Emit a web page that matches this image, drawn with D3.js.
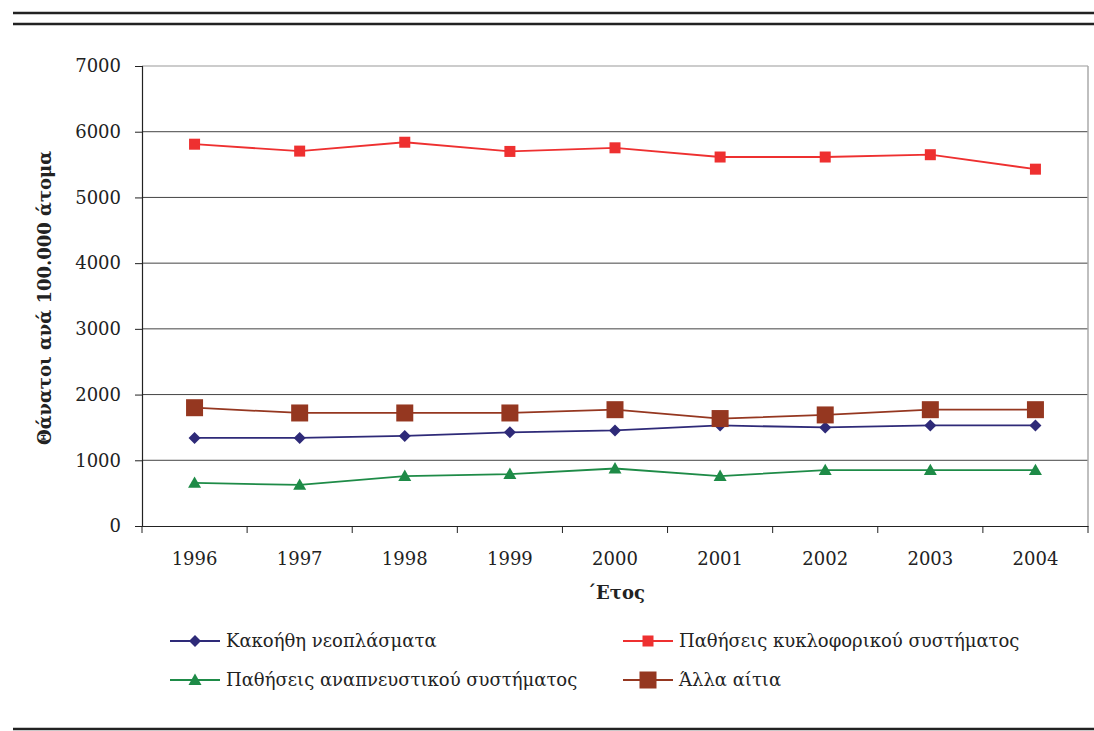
<!DOCTYPE html>
<html><head><meta charset="utf-8">
<script src="https://cdn.jsdelivr.net/npm/d3@7"></script>
<style>body{margin:0;background:#fff}svg{display:block}text{font-family:"DejaVu Serif",serif;fill:#222}</style>
</head><body><svg id="c" width="1094" height="731"></svg>
<script>
const years = ["1996","1997","1998","1999","2000","2001","2002","2003","2004"];
const yTicks = [0,1000,2000,3000,4000,5000,6000,7000];
const neoplasms = [1340,1340,1370,1425,1455,1530,1500,1530,1530];
const circulatory = [5810,5705,5840,5700,5755,5615,5615,5650,5430];
const respiratory = [655,625,760,790,875,760,850,850,850];
const other = [1800,1720,1720,1720,1770,1635,1690,1770,1770];
const seriesNames = ["Κακοήθη νεοπλάσματα","Παθήσεις κυκλοφορικού συστήματος","Παθήσεις αναπνευστικού συστήματος","Άλλα αίτια"];

const series = [
  {name:seriesNames[0], values:neoplasms, color:"#2E2A78", shape:"diamond", size:12, lw:1.8},
  {name:seriesNames[1], values:circulatory, color:"#EE3030", shape:"square", size:11, lw:1.8},
  {name:seriesNames[2], values:respiratory, color:"#1E8B47", shape:"triangle", size:13, lw:1.8},
  {name:seriesNames[3], values:other, color:"#953720", shape:"square", size:17, lw:1.8}
];

const svg = d3.select("#c");
const L=142, R=1088, T=66, B=526;
const x = d3.scaleBand().domain(years).range([L,R]);
const y = d3.scaleLinear().domain([0,7000]).range([B,T]);

svg.append("line").attr("x1",13).attr("x2",1094).attr("y1",13).attr("y2",13).attr("stroke","#222").attr("stroke-width",2.5);
svg.append("line").attr("x1",13).attr("x2",1094).attr("y1",24).attr("y2",24).attr("stroke","#222").attr("stroke-width",2.5);
svg.append("line").attr("x1",13).attr("x2",1094).attr("y1",729).attr("y2",729).attr("stroke","#222").attr("stroke-width",2.5);

svg.append("g").selectAll("line").data(yTicks.filter(d=>d>0)).join("line")
  .attr("x1",L).attr("x2",R).attr("y1",d=>y(d)).attr("y2",d=>y(d))
  .attr("stroke",d=>d===7000?"#999":"#444").attr("stroke-width",1);
svg.append("line").attr("x1",R).attr("x2",R).attr("y1",T).attr("y2",B).attr("stroke","#aaa").attr("stroke-width",1.5);

const ya = svg.append("g").attr("transform",`translate(${L},0)`)
  .call(d3.axisLeft(y).tickValues(yTicks).tickSize(7).tickPadding(14).tickFormat(d3.format("d")));
ya.select(".domain").attr("stroke","#222").attr("stroke-width",1.2);
ya.selectAll(".tick line").attr("stroke","#222");
ya.selectAll("text").style("font-size","18px").attr("fill","#222").style("font-family","DejaVu Serif, serif");

const xa = svg.append("g").attr("transform",`translate(0,${B})`)
  .call(d3.axisBottom(x).tickSize(0).tickPadding(26));
xa.select(".domain").attr("stroke","#222").attr("stroke-width",1.2);
xa.selectAll("text").style("font-size","18px").attr("fill","#222").style("font-family","DejaVu Serif, serif");
svg.append("g").selectAll("line").data(years.map(d=>x(d)).concat([R])).join("line")
  .attr("x1",d=>d).attr("x2",d=>d).attr("y1",B).attr("y2",B+7).attr("stroke","#222");

svg.append("text").attr("transform","translate(51,298) rotate(-90)").attr("text-anchor","middle")
  .style("font-size","18px").style("font-weight","bold").text("Θάνατοι ανά 100.000 άτομα");
svg.append("text").attr("x",616).attr("y",599).attr("text-anchor","middle")
  .style("font-size","18px").style("font-weight","bold").text("΄Ετος");

function marker(g, s, cx, cy){
  const h = s.size/2;
  if(s.shape==="square") g.append("rect").attr("x",cx-h).attr("y",cy-h).attr("width",s.size).attr("height",s.size).attr("fill",s.color);
  else if(s.shape==="diamond") g.append("path").attr("d",`M${cx},${cy-h}L${cx+h},${cy}L${cx},${cy+h}L${cx-h},${cy}Z`).attr("fill",s.color);
  else g.append("path").attr("d",`M${cx},${cy-h}L${cx+h},${cy+h*0.75}L${cx-h},${cy+h*0.75}Z`).attr("fill",s.color);
}

const line = d3.line().x((d,i)=>x(years[i])+x.bandwidth()/2).y(d=>y(d));
series.forEach(s=>{
  const g = svg.append("g");
  g.append("path").attr("d",line(s.values)).attr("fill","none").attr("stroke",s.color).attr("stroke-width",s.lw);
  s.values.forEach((v,i)=>marker(g,s,x(years[i])+x.bandwidth()/2,y(v)));
});

const legPos = [[170,641],[623,641],[170,680],[623,680]];
series.forEach((s,i)=>{
  const [lx,ly] = legPos[i];
  const g = svg.append("g");
  g.append("line").attr("x1",lx).attr("x2",lx+50).attr("y1",ly).attr("y2",ly).attr("stroke",s.color).attr("stroke-width",1.8);
  marker(g,s,lx+25,ly);
  g.append("text").attr("x",lx+56).attr("y",ly+6).style("font-size","18px").text(s.name);
});
</script></body></html>
